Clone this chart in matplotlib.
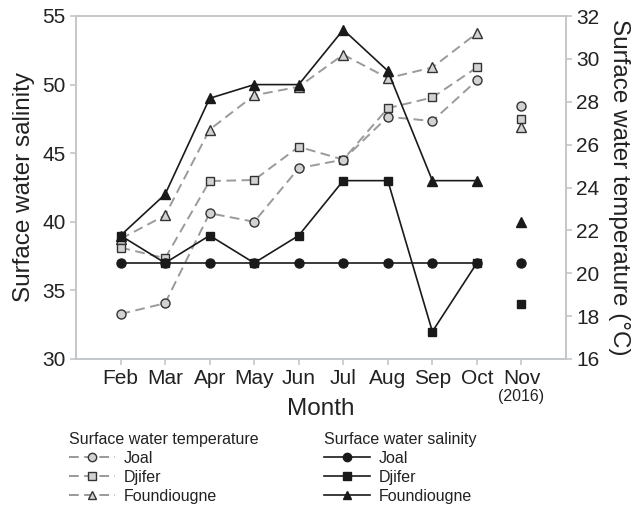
import numpy as np
import matplotlib
matplotlib.use("Agg")
import matplotlib.pyplot as plt
from matplotlib.lines import Line2D

plt.rcParams['font.family'] = ['Liberation Sans', 'DejaVu Sans']

# data
months = ['Feb', 'Mar', 'Apr', 'May', 'Jun', 'Jul', 'Aug', 'Sep', 'Oct', 'Nov']
sites = ['Joal', 'Djifer', 'Foundiougne']

sal_joal = [37, 37, 37, 37, 37, 37, 37, 37, 37, 37]
sal_djifer = [39, 37, 39, 37, 39, 43, 43, 32, 37, 34]
sal_found = [39, 42, 49, 50, 50, 54, 51, 43, 43, 40]

temp_joal = [18.1, 18.6, 22.8, 22.4, 24.9, 25.3, 27.3, 27.1, 29.0, 27.8]
temp_djifer = [21.2, 20.7, 24.3, 24.35, 25.9, 25.3, 27.7, 28.2, 29.6, 27.2]
temp_found = [21.6, 22.7, 26.7, 28.3, 28.7, 30.2, 29.1, 29.6, 31.2, 26.8]

markers = {'Joal': 'o', 'Djifer': 's', 'Foundiougne': '^'}
msize = {'Joal': 6.5, 'Djifer': 6.0, 'Foundiougne': 6.5}
spine_c = '#c4c7ca'
txt_c = '#222222'
gray_line = '#9a9a9a'
dash = (0, (5, 2.8))

fig = plt.figure(figsize=(6.33, 5.05), dpi=100)
ax = fig.add_axes([76 / 633, 1 - 359 / 505, 490 / 633, 343 / 505])
ax2 = ax.twinx()
ax.set_zorder(ax2.get_zorder() + 1)
ax.patch.set_visible(False)

x = np.arange(len(months))
n = len(months) - 1  # Nov is a separate point, not joined

# temperature (right axis)
temps = {'Joal': temp_joal, 'Djifer': temp_djifer, 'Foundiougne': temp_found}
for s in ['Foundiougne', 'Djifer', 'Joal']:
    t = temps[s]
    ax2.plot(x[:n], t[:n], color=gray_line, lw=1.4, linestyle=dash,
             marker=markers[s], ms=msize[s], mfc='#d2d2d2', mec='#333333', mew=1.0)
    ax2.plot(x[n], t[n], linestyle='none',
             marker=markers[s], ms=msize[s], mfc='#d2d2d2', mec='#333333', mew=1.0)

# salinity (left axis)
sals = {'Joal': sal_joal, 'Djifer': sal_djifer, 'Foundiougne': sal_found}
for s in ['Joal', 'Foundiougne', 'Djifer']:
    v = sals[s]
    ax.plot(x[:n], v[:n], color='#1a1a1a', lw=1.2,
            marker=markers[s], ms=msize[s], mfc='#1a1a1a', mec='#1a1a1a')
    ax.plot(x[n], v[n], linestyle='none',
            marker=markers[s], ms=msize[s], mfc='#1a1a1a', mec='#1a1a1a')

ax.set_xlim(-1, 10)
ax.set_ylim(30, 55)
ax2.set_ylim(16, 32)
ax.set_yticks(np.arange(30, 56, 5))
ax2.set_yticks(np.arange(16, 33, 2))
ax.set_xticks(x)
ax.set_xticklabels(months)
ax.annotate('(2016)', xy=(x[-1], 0), xycoords=('data', 'axes fraction'),
            xytext=(0, -38), textcoords='offset pixels', ha='center', va='center',
            fontsize=11.5, color=txt_c)

for a in (ax, ax2):
    for sp in a.spines.values():
        sp.set_color(spine_c)
        sp.set_linewidth(1.2)
    a.tick_params(colors=spine_c, labelcolor=txt_c, labelsize=15, length=4.5,
                  width=1.2, pad=3)

ax.set_ylabel('Surface water salinity', fontsize=17.5, color=txt_c, labelpad=5)
ax2.set_ylabel('Surface water temperature (°C)', fontsize=17.5, color=txt_c,
               rotation=270, labelpad=22)
ax.set_xlabel('Month', fontsize=17.5, color=txt_c, labelpad=7)

# legends
h_temp = [Line2D([], [], color=gray_line, lw=1.4, linestyle=dash, marker=markers[s],
                 ms=msize[s] - 0.5, mfc='#d2d2d2', mec='#333333', mew=1.0) for s in sites]
h_sal = [Line2D([], [], color='#1a1a1a', lw=1.2, marker=markers[s], ms=msize[s] - 0.5,
                mfc='#1a1a1a', mec='#1a1a1a') for s in sites]

leg_kw = dict(loc='upper left', frameon=False, fontsize=11.5, title_fontsize=11.5,
              alignment='left', handlelength=2.9, handletextpad=0.5,
              labelspacing=0.24, borderpad=0, borderaxespad=0)
l1 = fig.legend(h_temp, sites, title='Surface water temperature',
                bbox_to_anchor=(69 / 633, 1 - 432 / 505), **leg_kw)
l2 = fig.legend(h_sal, sites, title='Surface water salinity',
                bbox_to_anchor=(324 / 633, 1 - 432 / 505), **leg_kw)
for lg in (l1, l2):
    lg.get_title().set_color(txt_c)
    for t in lg.get_texts():
        t.set_color(txt_c)

fig.savefig('out.png', dpi=100)
